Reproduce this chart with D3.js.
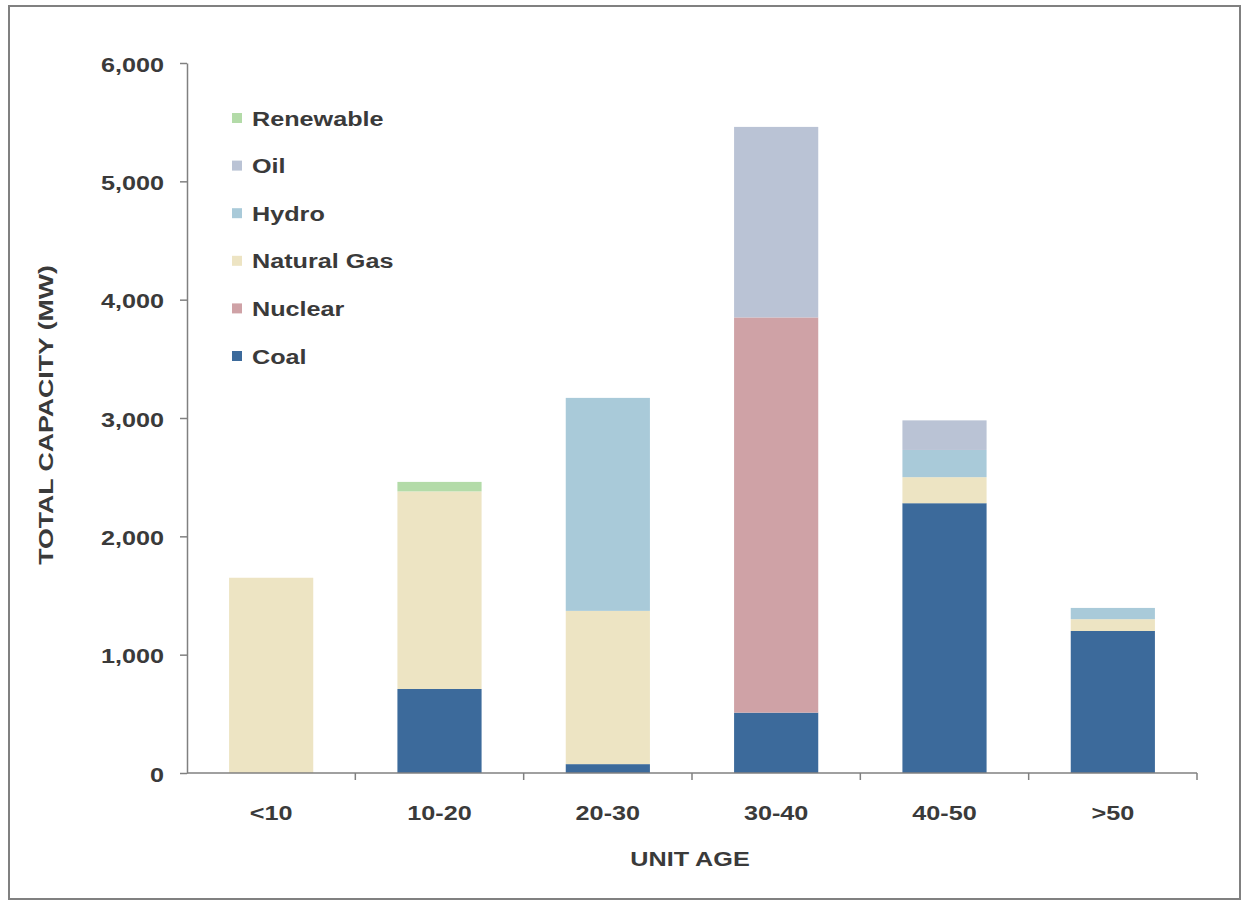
<!DOCTYPE html>
<html>
<head>
<meta charset="utf-8">
<script src="https://cdn.jsdelivr.net/npm/d3@7"></script>
<style>
  html, body { margin: 0; padding: 0; background: #fff; }
  svg { display: block; }
  text { font-family: "Liberation Sans", Arial, sans-serif; font-weight: bold; fill: #3a3a3a; }
</style>
</head>
<body>
<svg id="chart" width="1243" height="903"></svg>
<script>
// ---- Data ----
const categories = ["<10", "10-20", "20-30", "30-40", "40-50", ">50"];
const seriesNames = ["Coal", "Nuclear", "Natural Gas", "Hydro", "Oil", "Renewable"];
const coal      = [0,    710,  75,   510,  2280, 1200];
const nuclear   = [0,    0,    0,    3340, 0,    0];
const naturalGas= [1650, 1670, 1295, 0,    220,  100];
const hydro     = [0,    0,    1800, 0,    230,  95];
const oil       = [0,    0,    0,    1610, 250,  0];
const renewable = [0,    80,   0,    0,    0,    0];
const yTicks = [0, 1000, 2000, 3000, 4000, 5000, 6000];
const legendOrder = ["Renewable", "Oil", "Hydro", "Natural Gas", "Nuclear", "Coal"];

const colors = {
  "Coal": "#3c6a9b",
  "Nuclear": "#cfa2a6",
  "Natural Gas": "#ede4c3",
  "Hydro": "#a9cad9",
  "Oil": "#bac3d5",
  "Renewable": "#b3dba8"
};

const seriesValues = {
  "Coal": coal, "Nuclear": nuclear, "Natural Gas": naturalGas,
  "Hydro": hydro, "Oil": oil, "Renewable": renewable
};
const table = categories.map((c, i) => {
  const row = { cat: c };
  seriesNames.forEach(s => row[s] = seriesValues[s][i]);
  return row;
});

// ---- Layout ----
const svg = d3.select("#chart");
const pLeft = 187, pRight = 1197, pTop = 63, pBottom = 773;
const SX = 1.2; // horizontal text stretch like the scanned original

// frame
svg.append("rect")
  .attr("x", 9).attr("y", 6).attr("width", 1231).attr("height", 893)
  .attr("fill", "none").attr("stroke", "#808080").attr("stroke-width", 2);

const x = d3.scaleBand().domain(categories).range([pLeft, pRight])
  .paddingInner(0.5).paddingOuter(0.25);
const y = d3.scaleLinear().domain([0, 6000]).range([pBottom, pTop]);

// stacked bars
const stack = d3.stack().keys(seriesNames);
const layers = stack(table);
svg.append("g").selectAll("g").data(layers).join("g")
  .attr("fill", d => colors[d.key])
  .selectAll("rect").data(d => d.filter(p => p[1] - p[0] > 0)).join("rect")
  .attr("x", d => x(d.data.cat))
  .attr("width", x.bandwidth())
  .attr("y", d => y(d[1]))
  .attr("height", d => y(d[0]) - y(d[1]));

// y axis
const yAxis = svg.append("g").attr("transform", `translate(${pLeft},0)`)
  .call(d3.axisLeft(y).tickValues(yTicks).tickFormat(d3.format(",")).tickSize(7).tickSizeOuter(0));
yAxis.select(".domain").attr("stroke", "#808080").attr("stroke-width", 1.5);
yAxis.selectAll(".tick line").attr("stroke", "#808080").attr("stroke-width", 1.5);
yAxis.selectAll(".tick text")
  .attr("x", null).attr("dy", null)
  .attr("text-anchor", "end")
  .attr("transform", `translate(-23,8) scale(${SX},1)`)
  .style("font-size", "21px")
  .style("font-family", "Liberation Sans, Arial, sans-serif")
  .style("font-weight", "bold")
  .attr("fill", "#3a3a3a");

// x axis (ticks at category boundaries)
const xAxisG = svg.append("g").attr("transform", `translate(0,${pBottom})`);
xAxisG.append("line").attr("x1", pLeft).attr("x2", pRight).attr("y1", 0).attr("y2", 0)
  .attr("stroke", "#808080").attr("stroke-width", 1.5);
const step = x.step();
const boundaries = categories.map((c, i) => x(c) + x.bandwidth() + (step - x.bandwidth()) / 2);
xAxisG.selectAll("line.tk").data(boundaries).join("line").attr("class", "tk")
  .attr("x1", d => d).attr("x2", d => d).attr("y1", 0).attr("y2", 7)
  .attr("stroke", "#808080").attr("stroke-width", 1.5);
xAxisG.selectAll("text").data(categories).join("text")
  .attr("text-anchor", "middle")
  .attr("transform", d => `translate(${x(d) + x.bandwidth() / 2},47) scale(${SX},1)`)
  .style("font-size", "21px")
  .text(d => d);

// axis titles
svg.append("text")
  .attr("text-anchor", "middle")
  .attr("transform", `translate(690,866) scale(${SX},1)`)
  .style("font-size", "21px")
  .text("UNIT AGE");
svg.append("text")
  .attr("text-anchor", "middle")
  .attr("transform", `translate(53,415) rotate(-90) scale(1.27,1)`)
  .style("font-size", "21px")
  .text("TOTAL CAPACITY (MW)");

// legend
const legend = svg.append("g");
const lg = legend.selectAll("g").data(legendOrder).join("g")
  .attr("transform", (d, i) => `translate(232,${118 + i * 47.6})`);
lg.append("rect").attr("x", 0).attr("y", -5).attr("width", 10).attr("height", 10)
  .attr("fill", d => colors[d]);
lg.append("text")
  .attr("transform", `translate(20,7.5) scale(${SX},1)`)
  .style("font-size", "21px")
  .text(d => d);
</script>
</body>
</html>
